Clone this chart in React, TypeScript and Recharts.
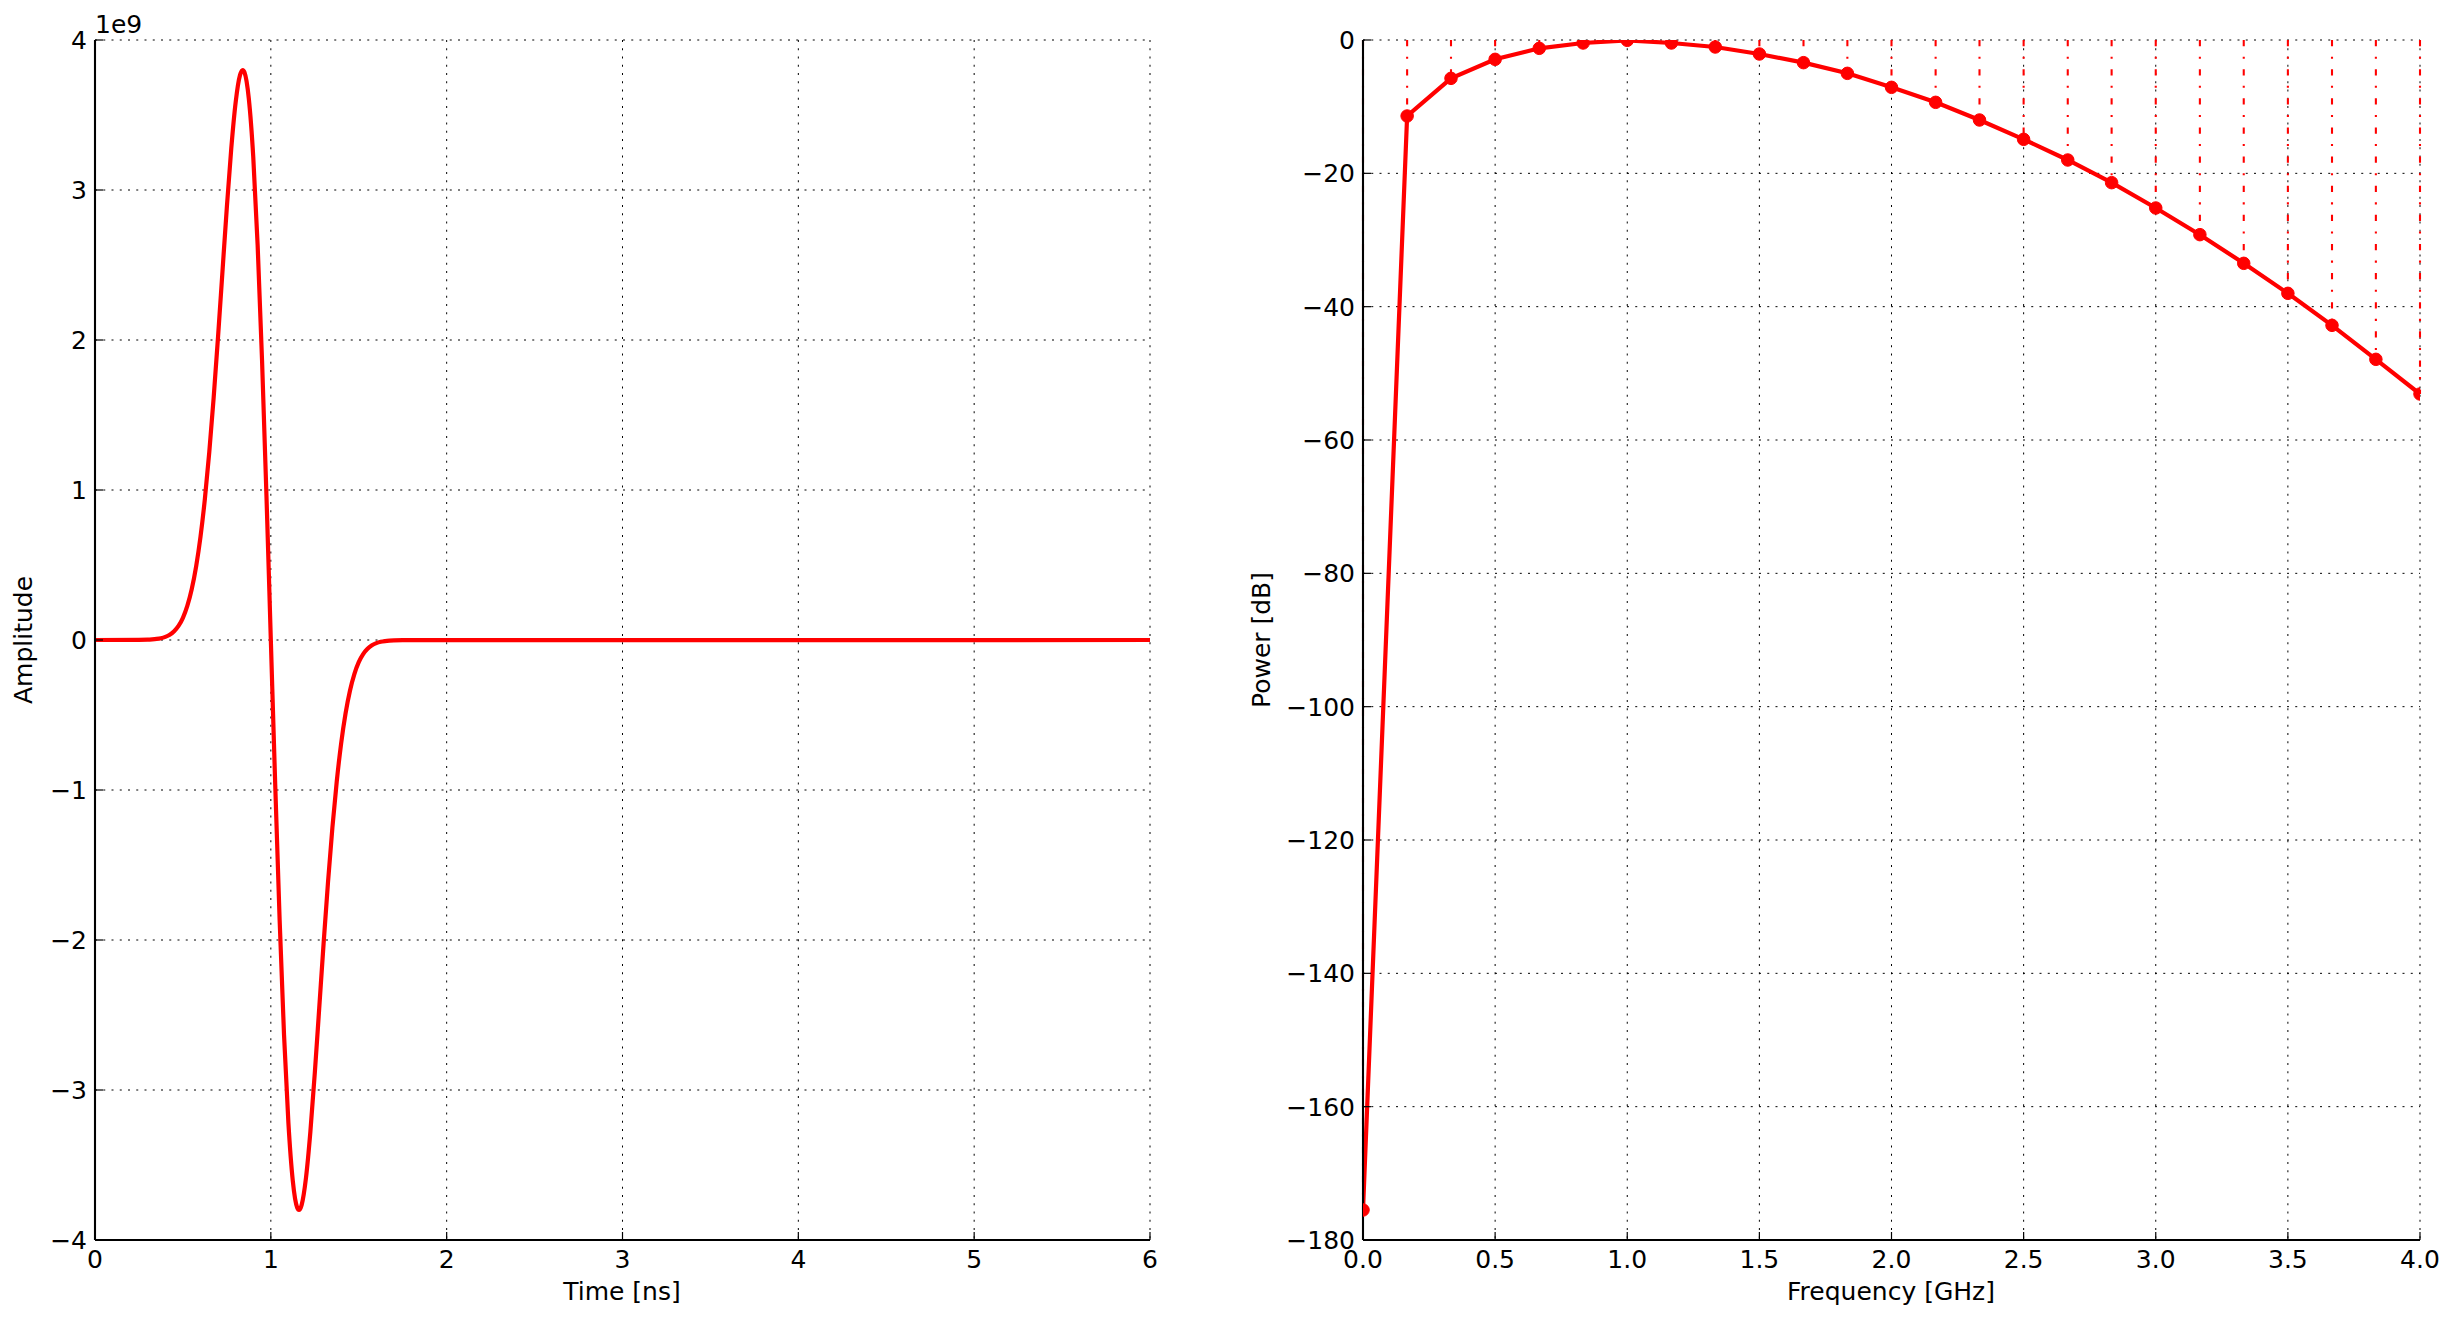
import { CartesianGrid, Line, LineChart, ReferenceLine, XAxis, YAxis } from "recharts";

const FONT = "DejaVu Sans";
const RED = "#ff0000";

// left panel: pulse, time in ns, amplitude in units of 1e9
const pulseTime = [
  0, 0.25, 0.3, 0.325, 0.35, 0.375, 0.4, 0.425, 0.45, 0.475, 0.5, 0.525, 0.55, 0.575, 0.6, 0.625,
  0.65, 0.675, 0.7, 0.725, 0.75, 0.775, 0.8, 0.825, 0.84, 0.85, 0.875, 0.9, 0.925, 0.95, 0.975, 1.0,
  1.025, 1.05, 1.075, 1.1, 1.125, 1.15, 1.16, 1.175, 1.2, 1.225, 1.25, 1.275, 1.3, 1.325, 1.35,
  1.375, 1.4, 1.425, 1.45, 1.475, 1.5, 1.525, 1.55, 1.575, 1.6, 1.625, 1.65, 1.675, 1.7, 1.75, 6,
];
const pulseAmp = [
  0, 0.001, 0.002, 0.004, 0.007, 0.012, 0.021, 0.035, 0.059, 0.094, 0.148, 0.227, 0.338, 0.489,
  0.688, 0.942, 1.253, 1.617, 2.025, 2.458, 2.888, 3.277, 3.585, 3.767, 3.8, 3.785, 3.607, 3.221,
  2.631, 1.865, 0.967, 0, -0.967, -1.865, -2.631, -3.221, -3.607, -3.785, -3.8, -3.767, -3.585,
  -3.277, -2.888, -2.458, -2.025, -1.617, -1.253, -0.942, -0.688, -0.489, -0.338, -0.227, -0.148,
  -0.094, -0.059, -0.035, -0.021, -0.012, -0.007, -0.004, -0.002, -0.001, 0,
];
const timeTicks = [0, 1, 2, 3, 4, 5, 6];
const ampTicks = [-4, -3, -2, -1, 0, 1, 2, 3, 4];

// right panel: spectrum
const freqGHz = [
  0, 0.167, 0.333, 0.5, 0.667, 0.833, 1.0, 1.167, 1.333, 1.5, 1.667, 1.833, 2.0, 2.167, 2.333,
  2.5, 2.667, 2.833, 3.0, 3.167, 3.333, 3.5, 3.667, 3.833, 4.0,
];
const powerDb = [
  -175.5, -11.4, -5.75, -2.9, -1.25, -0.45, -0.05, -0.45, -1.05, -2.1, -3.4, -5.0, -7.1, -9.35,
  -12.0, -14.9, -18.0, -21.4, -25.2, -29.2, -33.5, -38.0, -42.8, -47.9, -53.1,
];
const freqTicks = [0, 0.5, 1, 1.5, 2, 2.5, 3, 3.5, 4];
const powerTicks = [-180, -160, -140, -120, -100, -80, -60, -40, -20, 0];

const pulse = pulseTime.map((t, i) => ({ t, a: pulseAmp[i] }));
const spectrum = freqGHz.map((f, i) => ({ f, p: powerDb[i] }));

const minus = (v: number) => String(v).replace("-", "\u2212");
const blank = () => "";

const tickText = { fontFamily: FONT, fontSize: 25, fill: "#000" };
const spine = { stroke: "#000", strokeWidth: 2.1 };
const tickMark = { stroke: "#000", strokeWidth: 1.2 };
const GRID_DASH = "2 6.25";

const label = (text: string, style: React.CSSProperties) => (
  <div
    style={{
      position: "absolute",
      fontFamily: FONT,
      fontSize: 25,
      lineHeight: "25px",
      whiteSpace: "nowrap",
      color: "#000",
      ...style,
    }}
  >
    {text}
  </div>
);

function PulseChart() {
  return (
    <LineChart width={1200} height={1322} data={pulse} margin={{ top: 40, right: 50, bottom: 0, left: 0 }}>
      <CartesianGrid stroke="#000" strokeWidth={1} strokeDasharray={GRID_DASH} />
      <XAxis
        dataKey="t"
        type="number"
        domain={[0, 6]}
        ticks={timeTicks}
        interval={0}
        allowDataOverflow
        height={82}
        tickSize={-8}
        tickMargin={18}
        tick={tickText}
        tickLine={tickMark}
        axisLine={spine}
      />
      <XAxis
        xAxisId="top"
        dataKey="t"
        orientation="top"
        type="number"
        domain={[0, 6]}
        ticks={timeTicks}
        interval={0}
        height={0}
        tickSize={-8}
        tickFormatter={blank}
        tickLine={tickMark}
        axisLine={spine}
      />
      <YAxis
        type="number"
        domain={[-4, 4]}
        ticks={ampTicks}
        interval={0}
        allowDataOverflow
        width={95}
        tickSize={-8}
        tickMargin={16}
        tickFormatter={minus}
        tick={tickText}
        tickLine={tickMark}
        axisLine={spine}
      />
      <YAxis
        yAxisId="right"
        orientation="right"
        type="number"
        domain={[-4, 4]}
        ticks={ampTicks}
        interval={0}
        width={0}
        tickSize={-8}
        tickFormatter={blank}
        tickLine={tickMark}
        axisLine={spine}
      />
      <Line
        dataKey="a"
        type="monotone"
        stroke={RED}
        strokeWidth={4.2}
        dot={false}
        isAnimationActive={false}
      />
    </LineChart>
  );
}

function SpectrumChart() {
  return (
    <LineChart width={1204} height={1322} data={spectrum} margin={{ top: 40, right: 34, bottom: 0, left: 0 }}>
      <CartesianGrid stroke="#000" strokeWidth={1} strokeDasharray={GRID_DASH} />
      {spectrum.map((d) => (
        <ReferenceLine
          key={d.f}
          segment={[
            { x: d.f, y: 0 },
            { x: d.f, y: d.p },
          ]}
          stroke={RED}
          strokeWidth={2.08}
          strokeDasharray="6.25 10.4 2.08 10.4"
        />
      ))}
      <XAxis
        dataKey="f"
        type="number"
        domain={[0, 4]}
        ticks={freqTicks}
        interval={0}
        allowDataOverflow
        height={82}
        tickSize={-8}
        tickMargin={18}
        tickFormatter={(v: number) => v.toFixed(1)}
        tick={tickText}
        tickLine={tickMark}
        axisLine={spine}
      />
      <XAxis
        xAxisId="top"
        dataKey="f"
        orientation="top"
        type="number"
        domain={[0, 4]}
        ticks={freqTicks}
        interval={0}
        height={0}
        tickSize={-8}
        tickFormatter={blank}
        tickLine={tickMark}
        axisLine={spine}
      />
      <YAxis
        type="number"
        domain={[-180, 0]}
        ticks={powerTicks}
        interval={0}
        allowDataOverflow
        width={113}
        tickSize={-8}
        tickMargin={16}
        tickFormatter={minus}
        tick={tickText}
        tickLine={tickMark}
        axisLine={spine}
      />
      <YAxis
        yAxisId="right"
        orientation="right"
        type="number"
        domain={[-180, 0]}
        ticks={powerTicks}
        interval={0}
        width={0}
        tickSize={-8}
        tickFormatter={blank}
        tickLine={tickMark}
        axisLine={spine}
      />
      <Line
        dataKey="p"
        type="linear"
        stroke={RED}
        strokeWidth={4.2}
        dot={{ r: 6.25, fill: RED, stroke: RED, strokeWidth: 1 }}
        isAnimationActive={false}
      />
    </LineChart>
  );
}

export default function App() {
  return (
    <div
      style={{
        position: "absolute",
        left: 0,
        top: 0,
        width: 2454,
        height: 1322,
        background: "#fff",
        fontFamily: FONT,
      }}
    >
      <div style={{ position: "absolute", left: 0, top: 0 }}>
        <PulseChart />
      </div>
      <div style={{ position: "absolute", left: 1250, top: 0 }}>
        <SpectrumChart />
      </div>
      {label("1e9", { left: 95, top: 12 })}
      {label("Time [ns]", { left: 622, top: 1279, transform: "translateX(-50%)" })}
      {label("Frequency [GHz]", { left: 1891, top: 1279, transform: "translateX(-50%)" })}
      {label("Amplitude", { left: 23, top: 640, transform: "translate(-50%, -50%) rotate(-90deg)" })}
      {label("Power [dB]", { left: 1261, top: 640, transform: "translate(-50%, -50%) rotate(-90deg)" })}
    </div>
  );
}
